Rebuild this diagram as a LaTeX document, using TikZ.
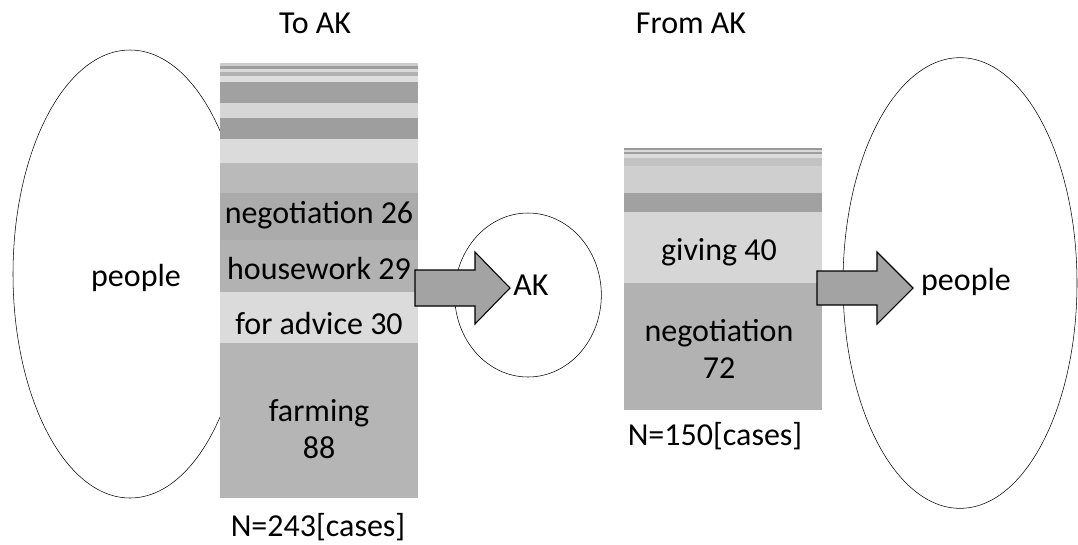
\documentclass[tikz,border=0pt]{standalone}
\usepackage{fontspec}
\setmainfont{Carlito}
\usetikzlibrary{positioning,shapes.geometric}
\tikzset{
  blob/.style={draw, thin, ellipse, inner sep=0pt},
  fatarrow/.style={draw, thick, fill=black!36, line join=miter},
  txt/.style={inner sep=1pt, font=\fontsize{24}{26}\selectfont}
}
\begin{document}
\begin{tikzpicture}[x=0.75pt,y=-0.75pt]
            \useasboundingbox (0,0) rectangle (1078,544);
            %ellipses
            \node [blob, minimum width=175.5pt, minimum height=336pt] (peopleL) at (130,274) {};
            \node [blob, minimum width=110pt, minimum height=123pt] (ak) at (528,295) {};
            \node [blob, minimum width=175.5pt, minimum height=338pt] (peopleR) at (960,283) {};
            %
            %bar to AK
            \foreach \ya/\yb/\g in {63/66/20, 66/69/38, 69/72/15, 72/76/30, 76/82/13, 82/103/37, 103/118/16, 118/139/38, 139/163/14, 163/193/27, 193/240/33, 240/292/30, 292/343/14, 343/498/29} {
                \fill [black!\g] (220,\ya) rectangle (418,\yb);
            }
            %bar from AK
            \foreach \ya/\yb/\g in {148/150/40, 150/152/15, 152/154/38, 154/158/14, 158/166/24, 166/193/19, 193/212/37, 212/283/16, 283/410/30} {
                \fill [black!\g] (624,\ya) rectangle (822,\yb);
            }
            %
            %labels
            \node [txt] (toak) at (315,23) {To AK};
            \node [txt] (fromak) at (691,23) {From AK};
            \node [txt] (ppl1) at (136,278) {people};
            \node [txt] (aktxt) at (531,285) {AK};
            \node [txt] (ppl2) at (966,282) {people};
            \node [txt] (neg1) at (319,215) {negotiation 26};
            \node [txt] (house) at (319,268) {housework 29};
            \node [txt] (advice) at (319,323) {for advice 30};
            \node [txt, align=center] (farm) at (319,429) {farming\\[2pt]88};
            \node [txt] (ntot1) at (318,527) {N=243[cases]};
            \node [txt] (give) at (719,252) {giving 40};
            \node [txt, align=center] (neg2) at (719,349) {negotiation\\[2pt]72};
            \node [txt] (ntot2) at (715,436) {N=150[cases]};
            %
            %arrows
            \coordinate (out1) at (415,288);
            \coordinate (out2) at (817,288);
            \draw [fatarrow] (out1) ++(0,-18) -- ++(60,0) -- ++(0,-18) -- ++(35,36) -- ++(-35,36) -- ++(0,-18) -- ++(-60,0) -- cycle;
            \draw [fatarrow] (out2) ++(0,-17) -- ++(60,0) -- ++(0,-19) -- ++(36,36) -- ++(-36,36) -- ++(0,-19) -- ++(-60,0) -- cycle;
            %
        \end{tikzpicture}
\end{document}
